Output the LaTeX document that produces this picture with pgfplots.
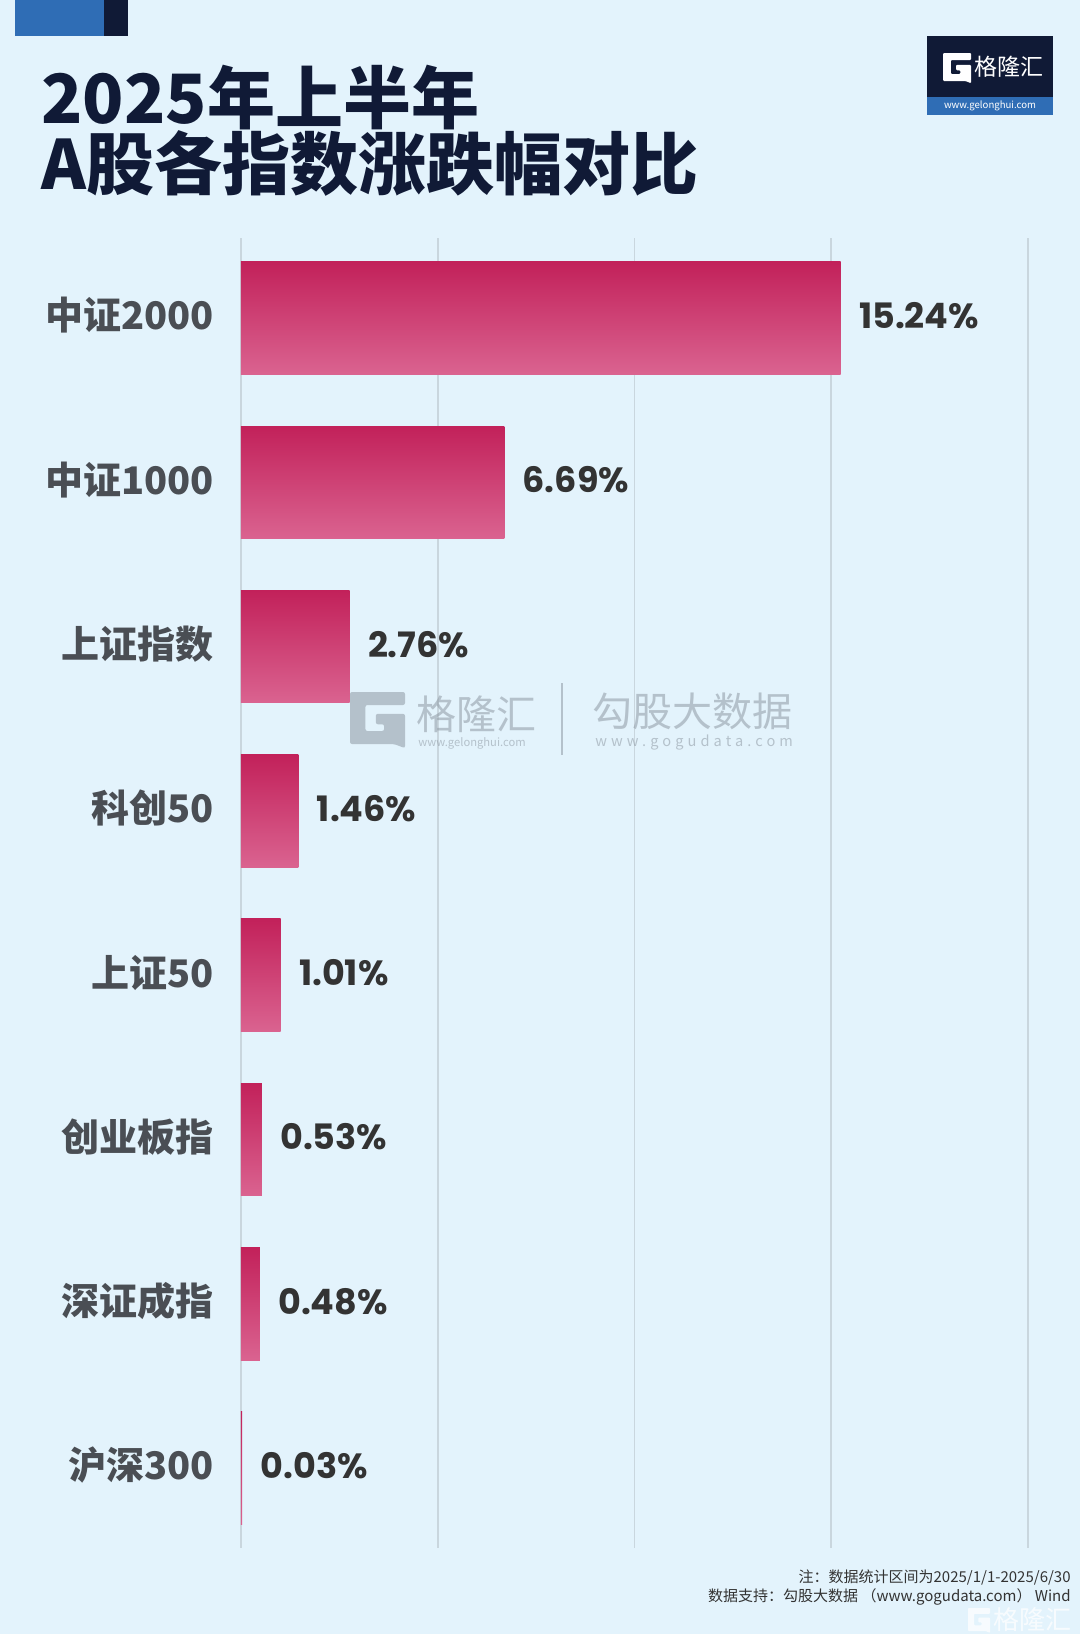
\documentclass[border=0pt]{standalone}
\usepackage{pgfplots}
\pgfplotsset{compat=1.18}
\usepackage{fontspec}
\setmainfont{Noto Sans CJK SC}
\newfontfamily\numfont{Poppins}
\definecolor{bg}{HTML}{E3F3FC}
\definecolor{blueA}{HTML}{2F6DB5}
\definecolor{navy}{HTML}{101A36}
\definecolor{gridc}{HTML}{C9D6DE}
\definecolor{barTop}{HTML}{C2215A}
\definecolor{barBot}{HTML}{DA6390}
\definecolor{catc}{HTML}{4A4E54}
\definecolor{valc}{HTML}{333333}
\definecolor{wm}{HTML}{8E99A3}
\newcommand\Gshape{(0,0) -- (1,0) -- (1,0.25) -- (0.28,0.25) -- (0.28,0.75) -- (0.62,0.75) -- (0.62,0.62) -- (0.47,0.62) -- (0.47,0.42) -- (1,0.42) -- (1,1.08) -- (0.8,1) -- (0,1) -- cycle}
\pgfplotsset{gbar/.style={draw=none, top color=barTop, bottom color=barBot, bar shift=0pt, forget plot}}
\begin{document}
\begin{tikzpicture}[x=0.5pt,y=-0.5pt]
\fill[bg] (0,0) rectangle (1080,1634);
\useasboundingbox (0,0) rectangle (1080,1634);
% top-left decoration
\fill[blueA] (15,0) rectangle (104,36);
\fill[navy] (104,0) rectangle (128,36);
% title
\node[anchor=base west, inner sep=0pt, text=navy, font=\bfseries\fontsize{34}{34}\selectfont] at (41,123) {2025年上半年};
\node[anchor=base west, inner sep=0pt, text=navy, font=\bfseries\fontsize{34}{34}\selectfont] at (41,189) {A股各指数涨跌幅对比};
% logo top right
\fill[navy] (927,36) rectangle (1053,97);
\fill[blueA] (927,97) rectangle (1053,115);
\begin{scope}[shift={(943,53)}, xscale=28, yscale=28]
\fill[white, rounded corners=0.5pt] \Gshape;
\end{scope}
\node[anchor=west, inner sep=0pt, text=white, font=\fontsize{11.5}{11.5}\selectfont] at (974,67) {格隆汇};
\node[inner sep=0pt, text=white, font=\fontsize{4.8}{4.8}\selectfont] at (990,106) {www.gelonghui.com};
% chart
\begin{axis}[
  at={(120.5pt,-774pt)}, anchor=south west,
  scale only axis, width=393.5pt, height=655pt,
  xmin=0, xmax=20, ymin=-0.487, ymax=7.487, y dir=reverse,
  xbar, bar width=56.3pt,
  axis line style={draw=none},
  major tick length=0pt,
  xtick={0,5,10,15,20}, xticklabels={},
  xmajorgrids, grid style={color=gridc, line width=0.9pt},
  ytick={0,1,2,3,4,5,6,7},
  yticklabels={中证2000,中证1000,上证指数,科创50,上证50,创业板指,深证成指,沪深300},
  yticklabel style={font=\bfseries\fontsize{19}{19}\selectfont, text=catc, anchor=east, inner sep=0pt, xshift=-13.5pt, yshift=1.3pt},
  point meta=explicit symbolic,
  nodes near coords={\pgfplotspointmeta\%},
  nodes near coords style={font=\numfont\bfseries\fontsize{17.5}{17.5}\selectfont, text=valc, anchor=west, inner sep=0pt, xshift=9pt, yshift=1.2pt},
  clip=false,
]
\addplot[gbar] coordinates {(15.24,0) [15.24]};
\addplot[gbar] coordinates {(6.69,1) [6.69]};
\addplot[gbar] coordinates {(2.76,2) [2.76]};
\addplot[gbar] coordinates {(1.46,3) [1.46]};
\addplot[gbar] coordinates {(1.01,4) [1.01]};
\addplot[gbar] coordinates {(0.53,5) [0.53]};
\addplot[gbar] coordinates {(0.48,6) [0.48]};
\addplot[gbar] coordinates {(0.03,7) [0.03]};
\end{axis}
% watermark
\begin{scope}[opacity=0.55]
\begin{scope}[shift={(350,692)}, xscale=55, yscale=52]
\fill[wm, rounded corners=1pt] \Gshape;
\end{scope}
\node[anchor=west, inner sep=0pt, text=wm, font=\fontsize{20}{20}\selectfont] at (416,714) {格隆汇};
\node[anchor=west, inner sep=0pt, text=wm, font=\fontsize{5.6}{5.6}\selectfont] at (418,743) {www.gelonghui.com};
\draw[wm, line width=1pt] (562,683) -- (562,755);
\node[anchor=west, inner sep=0pt, text=wm, font=\fontsize{20}{20}\selectfont] at (592,711) {勾股大数据};
\node[anchor=west, inner sep=0pt, text=wm, font=\addfontfeature{LetterSpace=28}\fontsize{7.3}{7.3}\selectfont] at (595,743) {www.gogudata.com};
\end{scope}
% footnote
\node[anchor=east, inner sep=0pt, text=valc, font=\fontsize{7.5}{7.5}\selectfont] at (1071,1577) {注：数据统计区间为2025/1/1-2025/6/30};
\node[anchor=east, inner sep=0pt, text=valc, font=\fontsize{7.5}{7.5}\selectfont] at (1071,1597) {数据支持：勾股大数据 （www.gogudata.com） Wind};
\begin{scope}[opacity=0.75]
\begin{scope}[shift={(968,1608)}, xscale=22, yscale=23]
\fill[white, rounded corners=0.4pt] \Gshape;
\end{scope}
\node[anchor=west, inner sep=0pt, text=white, font=\fontsize{13}{13}\selectfont] at (993,1620) {格隆汇};
\end{scope}
\end{tikzpicture}
\end{document}
